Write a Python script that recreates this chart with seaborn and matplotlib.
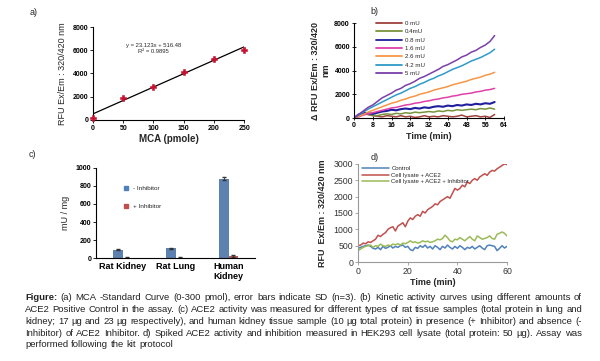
import pandas as pd
import numpy as np
import matplotlib.pyplot as plt
import seaborn as sns
from matplotlib.lines import Line2D

sns.set_theme(style='white')
plt.rcParams['font.family'] = ['Liberation Sans', 'DejaVu Sans']

# ---- data ----
# a) MCA standard curve
mca = [0, 50, 100, 150, 200, 250]
mca_rfu = [200, 1850, 2870, 4150, 5220, 6050]
mca_sd = [60, 90, 70, 100, 80, 110]
fit_slope = 23.123
fit_icpt = 516.48

# b) kinetic curves
b_time = list(range(0, 62, 2))
b_labels = ['0 mU', '0.4mU', '0.8 mU', '1.6 mU', '2.6 mU', '4.2 mU', '5 mU']
b_colors = ['#A0413C', '#77933C', '#1F1F9E', '#E040A8', '#F79646', '#2E9BC8', '#7A3FA8']
b_0 = [0, 250, 400, 300, 200, 150, 100, 200, 150, 100, 200, 100, 150, 50, 100, 200,
       100, 150, 100, 200, 150, 100, 150, 250, 100, 150, 200, 100, 150, 50, 300]
b_04 = [0, 200, 350, 300, 250, 200, 300, 350, 300, 400, 350, 450, 400, 500, 450, 500,
        550, 500, 600, 550, 650, 600, 700, 650, 700, 750, 700, 800, 750, 850, 750]
b_08 = [0, 300, 450, 400, 350, 450, 550, 600, 700, 650, 750, 800, 750, 850, 800, 900,
        850, 950, 1000, 950, 1050, 1000, 1100, 1050, 1150, 1100, 1200, 1150, 1250, 1200, 1350]
b_16 = [0, 100, 250, 350, 450, 550, 650, 750, 850, 900, 1000, 1100, 1150, 1250, 1300, 1400,
        1450, 1550, 1600, 1700, 1750, 1850, 1900, 2000, 2050, 2100, 2200, 2250, 2350, 2400, 2500]
b_26 = [0, 150, 300, 500, 650, 800, 950, 1100, 1250, 1350, 1500, 1600, 1750, 1850, 2000, 2100,
        2200, 2350, 2450, 2550, 2650, 2800, 2900, 3000, 3100, 3250, 3350, 3450, 3600, 3700, 3850]
b_42 = [0, 250, 500, 750, 950, 1150, 1350, 1550, 1750, 1950, 2100, 2300, 2500, 2650, 2850, 3000,
        3200, 3350, 3550, 3700, 3900, 4100, 4250, 4400, 4600, 4800, 4950, 5100, 5300, 5500, 5800]
b_5 = [0, 300, 600, 900, 1100, 1400, 1700, 1900, 2100, 2350, 2500, 2750, 2900, 3100, 3350, 3500,
       3700, 3900, 4100, 4350, 4500, 4700, 4900, 5150, 5300, 5550, 5700, 5950, 6150, 6450, 6950]

# c) tissue activity
tissues = ['Rat Kidney', 'Rat Lung', 'Human\nKidney']
inh_groups = ['- Inhibitor', '+ Inhibitor']
act_minus = [95, 110, 880]
act_plus = [5, 5, 20]
sd_minus = [5, 5, 15]
sd_plus = [2, 2, 12]

# d) HEK293 lysate
d_time = list(range(0, 61))
d_control = [420, 450, 480, 500, 520, 480, 420, 400, 450, 380, 480, 420, 450, 500, 430, 480,
             450, 500, 520, 450, 480, 380, 350, 450, 420, 500, 450, 520, 430, 480, 400, 500,
             450, 380, 480, 430, 520, 450, 400, 480, 420, 500, 450, 380, 450, 420, 480, 400,
             450, 500, 430, 380, 500, 520, 500, 480, 350, 420, 500, 430, 480]
d_ace2 = [500, 520, 580, 560, 620, 600, 650, 700, 820, 780, 850, 900, 1000, 1050, 1080, 950,
          1100, 1150, 1200, 1080, 1250, 1350, 1300, 1400, 1450, 1400, 1550, 1500, 1600, 1650,
          1700, 1780, 1750, 1850, 1900, 1950, 2000, 1950, 2100, 2250, 2200, 2250, 2350, 2300,
          2450, 2400, 2500, 2550, 2500, 2600, 2650, 2700, 2650, 2750, 2800, 2780, 2850, 2900,
          2950, 3000, 2980]
d_inhib = [350, 400, 450, 480, 500, 520, 450, 500, 480, 550, 500, 480, 520, 500, 550, 530,
           560, 520, 580, 560, 600, 650, 600, 620, 580, 600, 650, 620, 640, 600, 620, 650,
           700, 680, 720, 820, 750, 650, 620, 700, 680, 750, 700, 650, 720, 780, 700, 650,
           800, 750, 700, 720, 750, 800, 720, 700, 850, 880, 920, 880, 800]
d_labels = ['Control', 'Cell lysate + ACE2', 'Cell lysate + ACE2 + Inhibitor']
d_colors = ['#4F81BD', '#C0504D', '#9BBB59']

caption = [
    'Figure: (a) MCA -Standard Curve (0-300 pmol), error bars indicate SD (n=3). (b) Kinetic activity curves using different amounts of',
    'ACE2 Positive Control in the assay. (c) ACE2 activity was measured for different types of rat tissue samples (total protein in lung and',
    'kidney; 17 \u00b5g and 23 \u00b5g respectively), and human kidney tissue sample (10 \u00b5g total protein) in presence (+ Inhibitor) and absence (-',
    'Inhibitor) of ACE2 Inhibitor. d) Spiked ACE2 activity and inhibition measured in HEK293 cell lysate (total protein: 50 \u00b5g). Assay was',
    'performed following the kit protocol',
]

fig = plt.figure(figsize=(6, 3.61), dpi=100)


def style_axes(ax, size=5, bold=True, color='black'):
    for s in ['top', 'right']:
        ax.spines[s].set_visible(False)
    for s in ['left', 'bottom']:
        ax.spines[s].set_color(color)
        ax.spines[s].set_linewidth(0.8)
    ax.tick_params(labelsize=size, length=2, width=0.6, pad=1.5, colors='black',
                   left=True, bottom=True)
    for lab in ax.get_xticklabels() + ax.get_yticklabels():
        lab.set_fontweight('bold' if bold else 'normal')


# ---- a ----
ax_a = fig.add_axes([0.155, 0.668, 0.252, 0.257])
fit_x = np.array([0, 250])
sns.lineplot(x=fit_x, y=fit_slope * fit_x + fit_icpt, color='black', lw=0.9, ax=ax_a)
ax_a.errorbar(mca, mca_rfu, yerr=mca_sd, fmt='none', ecolor='#C00000', elinewidth=0.6,
              capsize=1, clip_on=False)
sns.scatterplot(x=mca, y=mca_rfu, marker='P', s=24, color='#C8102E', edgecolor='#C8102E',
                ax=ax_a, clip_on=False, zorder=3)
ax_a.set_xlim(0, 250)
ax_a.set_ylim(0, 8000)
ax_a.set_xticks([0, 50, 100, 150, 200, 250])
ax_a.set_yticks([0, 2000, 4000, 6000, 8000])
style_axes(ax_a)
ax_a.set_xlabel('MCA (pmole)', fontsize=7, fontweight='bold', labelpad=2)
ax_a.set_ylabel('RFU Ex/Em : 320/420 nm', fontsize=6.5, labelpad=4)
ax_a.text(100, 6400, 'y = 23.123x + 516.48', fontsize=4.2, ha='center', va='center')
ax_a.text(100, 5920, 'R\u00b2 = 0.9895', fontsize=4.2, ha='center', va='center')
fig.text(0.05, 0.964, 'a)', fontsize=6.5, va='center')

# ---- b ----
ax_b = fig.add_axes([0.59, 0.673, 0.25, 0.263])
b_df = pd.DataFrame({'time': b_time * 7,
                     'value': b_0 + b_04 + b_08 + b_16 + b_26 + b_42 + b_5,
                     'dose': np.repeat(b_labels, len(b_time))})
sns.lineplot(data=b_df, x='time', y='value', hue='dose', hue_order=b_labels,
             palette=b_colors, lw=1.1, ax=ax_b)
for ln in ax_b.lines:
    if ln.get_color() == '#1F1F9E':
        ln.set_linewidth(1.5)
ax_b.set_xlim(0, 64)
ax_b.set_ylim(0, 8000)
ax_b.set_xticks(range(0, 65, 8))
ax_b.set_yticks(range(0, 8001, 2000))
style_axes(ax_b)
ax_b.tick_params(direction='inout', length=3)
ax_b.set_xlabel('Time (min)', fontsize=6.5, fontweight='bold', labelpad=2)
ax_b.set_ylabel('\u0394 RFU Ex/Em : 320/420\nnm', fontsize=6.5, fontweight='bold',
                labelpad=3, linespacing=1.1)
leg_b = ax_b.legend(loc='upper left', bbox_to_anchor=(0.13, 1.05), frameon=False,
                    fontsize=4.4, handlelength=4.2, labelspacing=0.5, handletextpad=0.5,
                    borderaxespad=0)
for ln in leg_b.get_lines():
    ln.set_linewidth(1.3)
fig.text(0.617, 0.967, 'b)', fontsize=6.5, va='center')

# ---- c ----
ax_c = fig.add_axes([0.16, 0.285, 0.265, 0.25])
c_df = pd.DataFrame({'tissue': tissues * 2,
                     'group': np.repeat(inh_groups, 3),
                     'activity': act_minus + act_plus})
sns.barplot(data=c_df, x='tissue', y='activity', hue='group', hue_order=inh_groups,
            palette=['#4F81BD', '#C0504D'], width=0.36, errorbar=None, ax=ax_c,
            edgecolor='none')
bar_sd = sd_minus + sd_plus
for patch, val, sd in zip(ax_c.patches[:6], act_minus + act_plus, bar_sd):
    ax_c.errorbar(patch.get_x() + patch.get_width() / 2, val, yerr=sd, fmt='none',
                  ecolor='#333333', elinewidth=0.6, capsize=1.2)
ax_c.set_xlim(-0.5, 2.5)
ax_c.set_ylim(0, 1000)
ax_c.set_yticks(range(0, 1001, 200))
style_axes(ax_c)
ax_c.tick_params(axis='x', length=0, labelsize=6.5, pad=3)
for lab in ax_c.get_xticklabels():
    lab.set_linespacing(1.1)
ax_c.set_xlabel('')
ax_c.set_ylabel('mU / mg', fontsize=6.5, labelpad=4)
handles = [Line2D([], [], marker='s', ls='', color=c, markersize=2.2)
           for c in ['#4F81BD', '#C0504D']]
ax_c.legend(handles, inh_groups, loc='upper left', bbox_to_anchor=(0.13, 0.83),
            frameon=False, fontsize=4.6, labelspacing=1.9, handletextpad=0.2,
            borderaxespad=0)
fig.text(0.047, 0.571, 'c)', fontsize=6.5, va='center')

# ---- d ----
ax_d = fig.add_axes([0.597, 0.274, 0.248, 0.272])
d_df = pd.DataFrame({'time': d_time * 3,
                     'value': d_control + d_ace2 + d_inhib,
                     'sample': np.repeat(d_labels, len(d_time))})
sns.lineplot(data=d_df, x='time', y='value', hue='sample', hue_order=d_labels,
             palette=d_colors, lw=1.1, ax=ax_d)
ax_d.set_xlim(0, 60)
ax_d.set_ylim(0, 3000)
ax_d.set_xticks([0, 20, 40, 60])
ax_d.set_yticks(range(0, 3001, 500))
style_axes(ax_d, size=6.3, bold=False, color='#999999')
ax_d.tick_params(colors='#999999', labelcolor='#333333')
ax_d.set_xlabel('Time (min)', fontsize=6.5, fontweight='bold', labelpad=1.5)
ax_d.set_ylabel('RFU  Ex/Em : 320/420 nm', fontsize=6.5, fontweight='bold', labelpad=5)
ax_d.legend(loc='upper left', bbox_to_anchor=(0.01, 1.0), frameon=False, fontsize=4.3,
            handlelength=4.5, labelspacing=0.2, handletextpad=0.4, borderaxespad=0)
fig.text(0.618, 0.565, 'd)', fontsize=6.5, va='center')

# ---- caption (justified) ----
renderer = fig.canvas.get_renderer()
cx0, cx1 = 0.042, 0.970
line_y = [298, 310, 321.5, 333, 344.5]
for i, line in enumerate(caption):
    y = 1 - line_y[i] / 361
    words = line.split(' ')
    texts = []
    for j, w in enumerate(words):
        weight = 'bold' if (i == 0 and j == 0) else 'normal'
        texts.append(fig.text(0, y, w, fontsize=6.8, color='#222222', va='center',
                              fontweight=weight))
    widths = [t.get_window_extent(renderer).width / fig.bbox.width for t in texts]
    if i < len(caption) - 1:
        gap = (cx1 - cx0 - sum(widths)) / (len(words) - 1)
    else:
        gap = 0.0045
    x = cx0
    for t, w in zip(texts, widths):
        t.set_x(x)
        x += w + gap

fig.savefig('out.png', dpi=100)
